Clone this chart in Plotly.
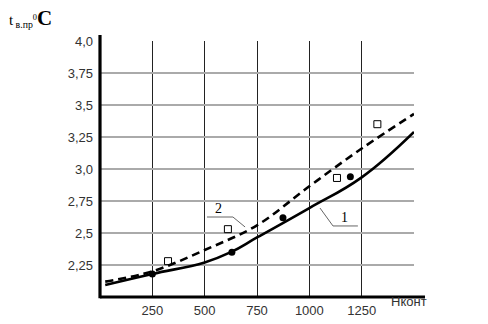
import plotly.graph_objects as go

# Fitted curves
x_fit1 = [25, 250, 500, 625, 750, 1000, 1250, 1500]
curve1 = [2.094, 2.18, 2.27, 2.35, 2.465, 2.695, 2.935, 3.29]
x_fit2 = [25, 250, 500, 750, 1000, 1250, 1500]
curve2 = [2.12, 2.20, 2.367, 2.56, 2.865, 3.16, 3.43]

# Measured points
pts1_x = [250, 630, 874, 1196]
pts1_y = [2.18, 2.35, 2.62, 2.94]
pts2_x = [325, 611, 1132, 1325]
pts2_y = [2.28, 2.53, 2.93, 3.35]

x_ticks = [250, 500, 750, 1000, 1250, 1500]
x_labels = ["250", "500", "750", "1000", "1250", ""]
y_ticks = [2.25, 2.5, 2.75, 3.0, 3.25, 3.5, 3.75, 4.0]
y_labels = ["2,25", "2,5", "2,75", "3,0", "3,25", "3,5", "3,75", "4,0"]

fig = go.Figure()
fig.add_trace(go.Scatter(x=x_fit1, y=curve1, mode="lines",
                         line=dict(color="black", width=2.6, shape="spline", smoothing=1.2),
                         showlegend=False))
fig.add_trace(go.Scatter(x=x_fit2, y=curve2, mode="lines",
                         line=dict(color="black", width=2.6, dash="8px,5px", shape="spline", smoothing=1.0),
                         showlegend=False))
fig.add_trace(go.Scatter(x=pts1_x, y=pts1_y, mode="markers",
                         marker=dict(symbol="circle", size=7, color="black"),
                         showlegend=False))
fig.add_trace(go.Scatter(x=pts2_x, y=pts2_y, mode="markers",
                         marker=dict(symbol="square-open", size=7, color="black",
                                     line=dict(width=1)),
                         showlegend=False))

tick_font = dict(family="Liberation Sans, Arial, sans-serif", size=13, color="#333")

# page body has an 8px margin, so the figure is sized/positioned accordingly
fig.update_layout(
    width=480, height=316,
    margin=dict(l=92, r=74, t=33, b=27, autoexpand=False),
    paper_bgcolor="white", plot_bgcolor="white",
    showlegend=False,
    xaxis=dict(range=[0, 1500], tickvals=x_ticks, ticktext=x_labels,
               showgrid=True, gridcolor="#222", gridwidth=1,
               showline=False, zeroline=False, ticks="", automargin=False,
               tickfont=tick_font, ticklabelstandoff=4),
    yaxis=dict(range=[2.0, 4.0], tickvals=y_ticks, ticktext=y_labels,
               showgrid=True, gridcolor="#aaa", gridwidth=1.5,
               showline=False, zeroline=False, ticks="", automargin=False,
               tickfont=tick_font, ticklabelstandoff=6),
    font=dict(family="Liberation Serif, Times New Roman, serif", color="black"),
)

# axes lines
fig.add_shape(type="line", xref="paper", yref="paper", x0=0, x1=0, y0=-0.005, y1=1.023,
              line=dict(color="black", width=3.2))
fig.add_shape(type="line", xref="paper", yref="paper", x0=0, x1=1.035, y0=0, y1=0,
              line=dict(color="black", width=3.2))

# leader lines
fig.add_shape(type="line", x0=511, x1=635, y0=2.625, y1=2.625, line=dict(color="#666", width=1))
fig.add_shape(type="line", x0=635, x1=693, y0=2.625, y1=2.547, line=dict(color="#666", width=1))
fig.add_shape(type="line", x0=1113, x1=1232, y0=2.555, y1=2.555, line=dict(color="#666", width=1))
fig.add_shape(type="line", x0=1113, x1=1051, y0=2.555, y1=2.695, line=dict(color="#666", width=1))

fig.add_annotation(x=564, y=2.695, text="2", showarrow=False,
                   font=dict(size=14, family="Liberation Serif, serif", color="black"))
fig.add_annotation(x=1170, y=2.625, text="1", showarrow=False,
                   font=dict(size=14, family="Liberation Serif, serif", color="black"))

# x-axis name
fig.add_annotation(xref="paper", yref="paper", x=1.0 + 15 / 314, y=0, yshift=-14,
                   text="Нконт", showarrow=False,
                   font=dict(family="Liberation Sans, Arial, sans-serif", size=13, color="#333"))

# y-axis title
fig.add_annotation(xref="paper", yref="paper", x=-93 / 314, y=1.0, yshift=23,
                   xanchor="left", yanchor="middle",
                   text="t<span style='font-size:14px'><sub> в.пр</sub></span>"
                        "<span style='font-size:12px'><sup>0</sup></span>"
                        "<b><span style='font-size:21px'>C</span></b>",
                   showarrow=False,
                   font=dict(size=15, family="Liberation Serif, serif", color="black"))

fig.write_html("out.html")
